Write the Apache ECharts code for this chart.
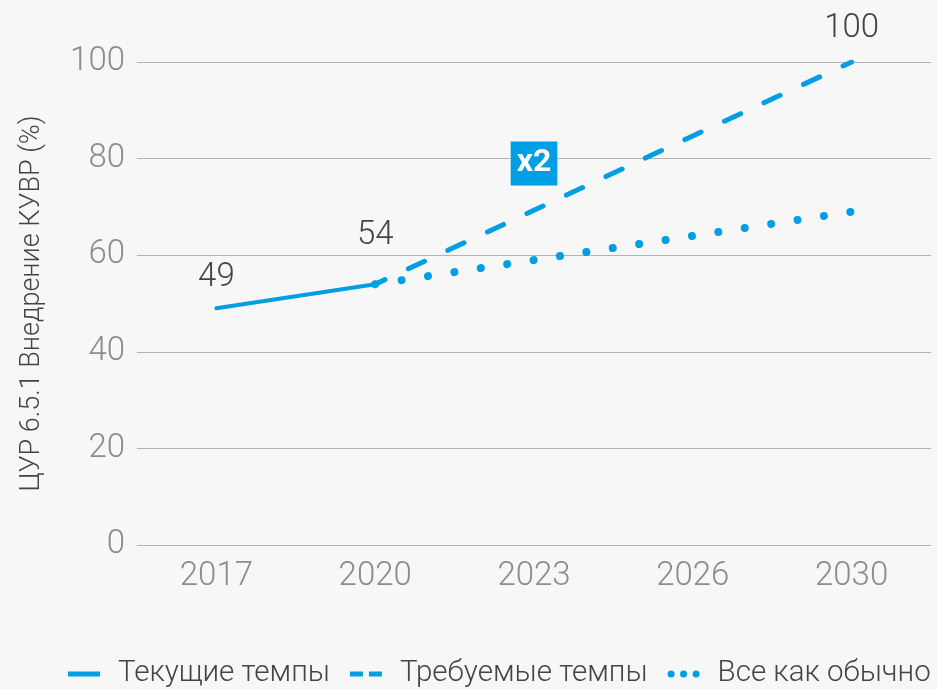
<!DOCTYPE html>
<html>
<head>
<meta charset="utf-8">
<script src="https://cdn.jsdelivr.net/npm/echarts@6/dist/echarts.min.js"></script>
<style>
  html, body { margin: 0; padding: 0; background: #f7f7f7; }
  #chart { width: 937px; height: 689px; }
</style>
</head>
<body>
<div id="chart"></div>
<script>
var years = ['2017', '2020', '2023', '2026', '2030'];
var current = [49, 54, null, null, null];
var required = [null, 54, 69.3, 84.7, 100];
var usual = [null, 54, 59, 64, 69];
var yTicks = [0, 20, 40, 60, 80, 100];

var blue = '#009fe3';
var font = 'Roboto';

var chart = echarts.init(document.getElementById('chart'));

// подписи только у отдельных точек (distance задаётся для каждой)
function labelled(arr, dist) {
    return arr.map(function (v, i) {
        if (dist[i] == null || v == null) return v;
        return {
            value: v,
            label: { show: true, position: 'top', distance: dist[i] }
        };
    });
}

var valueLabel = {
    show: false,
    color: '#444',
    fontFamily: font,
    fontWeight: 300,
    fontSize: 33
};

var option = {
    backgroundColor: '#f7f7f7',
    animation: false,
    grid: { left: 137, right: 6, top: 62, bottom: 144 },
    xAxis: {
        type: 'category',
        data: years,
        axisLine: { show: false },
        axisTick: { show: false },
        axisLabel: {
            margin: 15,
            color: '#8c8c8c',
            fontFamily: font,
            fontWeight: 300,
            fontSize: 33
        }
    },
    yAxis: {
        type: 'value',
        min: yTicks[0],
        max: yTicks[yTicks.length - 1],
        interval: 20,
        name: 'ЦУР 6.5.1 Внедрение КУВР (%)',
        nameLocation: 'middle',
        nameGap: 91,
        nameTextStyle: {
            color: '#444',
            fontFamily: font,
            fontWeight: 300,
            fontSize: 27
        },
        axisLine: { show: false },
        axisTick: { show: false },
        axisLabel: {
            margin: 12,
            color: '#8c8c8c',
            fontFamily: font,
            fontWeight: 300,
            fontSize: 33
        },
        splitLine: { lineStyle: { color: '#b3b3b3', width: 1 } }
    },
    legend: {
        left: 68,
        top: 659,
        width: 869,
        padding: 0,
        itemWidth: 32,
        itemHeight: 8,
        itemGap: 20,
        textStyle: {
            color: '#444',
            fontFamily: font,
            fontWeight: 300,
            fontSize: 29.5,
            padding: [0, 0, 0, 13]
        },
        data: [
            { name: 'Текущие темпы', icon: 'path://M0,0h32v5h-32Z' },
            { name: 'Требуемые темпы', icon: 'path://M0,0h13v5h-13Z M19,0h13v5h-13Z' },
            { name: 'Все как обычно',
              icon: 'path://M0,3.5a3.5,3.5 0 1,0 7,0a3.5,3.5 0 1,0 -7,0Z M12.5,3.5a3.5,3.5 0 1,0 7,0a3.5,3.5 0 1,0 -7,0Z M25,3.5a3.5,3.5 0 1,0 7,0a3.5,3.5 0 1,0 -7,0Z' }
        ]
    },
    series: [
        {
            name: 'Все как обычно',
            type: 'line',
            data: usual,
            symbol: 'none',
            color: blue,
            lineStyle: { width: 8, type: [0.01, 26.69], cap: 'round', color: blue },
            z: 2
        },
        {
            name: 'Требуемые темпы',
            type: 'line',
            data: labelled(required, [null, null, null, null, 17]),
            symbol: 'circle',
            symbolSize: 0,
            showSymbol: true,
            color: blue,
            label: valueLabel,
            lineStyle: { width: 5, type: [17.8, 25.8], dashOffset: 7, cap: 'round', color: blue },
            markPoint: {
                symbol: 'rect',
                symbolSize: 0,
                data: [{ coord: ['2023', 79] }],
                label: {
                    show: true,
                    position: 'inside',
                    formatter: 'x2',
                    color: '#fff',
                    fontFamily: font,
                    fontWeight: 'bold',
                    fontSize: 32,
                    backgroundColor: blue,
                    padding: [7, 6, 5, 6]
                }
            },
            z: 3
        },
        {
            name: 'Текущие темпы',
            type: 'line',
            data: labelled(current, [14, 32, null, null, null]),
            symbol: 'circle',
            symbolSize: 0,
            showSymbol: true,
            color: blue,
            label: valueLabel,
            lineStyle: { width: 4, color: blue, cap: 'round' },
            z: 4
        }
    ]
};

chart.setOption(option);
</script>
</body>
</html>
